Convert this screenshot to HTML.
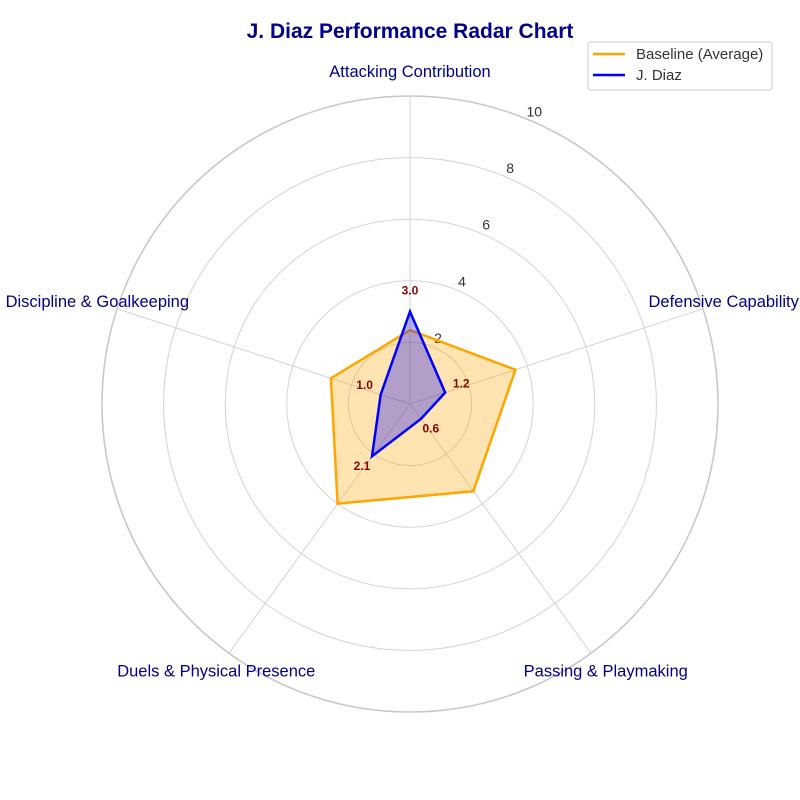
<!DOCTYPE html>
<html><head><meta charset="utf-8">
<style>
body{margin:0;background:#fff;}
svg{display:block;font-family:"Liberation Sans",Arial,sans-serif;}
</style></head>
<body>
<svg id="chart" width="800" height="800" viewBox="0 0 800 800">
<text x="410" y="38" text-anchor="middle" font-size="21" font-weight="bold" fill="#00008b">J. Diaz Performance Radar Chart</text>
<g id="grid"></g>
<g id="series"></g>
<g>
<rect x="588" y="42" width="184" height="48" rx="3" fill="#fff" stroke="#ccc"/>
<line x1="593" y1="54" x2="625" y2="54" stroke="orange" stroke-width="2.5"/>
<text x="636" y="59" font-size="15" fill="#333">Baseline (Average)</text>
<line x1="593" y1="75" x2="625" y2="75" stroke="blue" stroke-width="2.5"/>
<text x="636" y="80" font-size="15" fill="#333">J. Diaz</text>
</g>
</svg>
<script>
const categories = ["Attacking Contribution","Defensive Capability","Passing & Playmaking","Duels & Physical Presence","Discipline & Goalkeeping"];
const baselineValues = [2.4, 3.6, 3.5, 4.0, 2.7];
const diazValues = [3.0, 1.2, 0.6, 2.1, 1.0];
const radialTicks = [2, 4, 6, 8, 10];
const rMax = 10;

const NS = "http://www.w3.org/2000/svg";
const cx = 410, cy = 404, R = 308;
const grid = document.getElementById('grid');
const series = document.getElementById('series');
function rScale(v){ return v / rMax * R; }
function angle(i){ return i * 2 * Math.PI / categories.length; }
function pt(i, v){ const a = angle(i), r = rScale(v); return [cx + r*Math.sin(a), cy - r*Math.cos(a)]; }
function mk(tag, attrs, parent){ const e = document.createElementNS(NS, tag); for (const k in attrs) e.setAttribute(k, attrs[k]); parent.appendChild(e); return e; }

radialTicks.forEach(t => {
  const c = mk('circle', {cx:cx, cy:cy, r:rScale(t), fill:'none', stroke: t===rMax ? '#c8c8c8' : '#d3d3d3', 'stroke-width': t===rMax ? 1.6 : 1}, grid);
  
  
  const a = 23 * Math.PI / 180, r = rScale(t) + 10;
  const tx = mk('text', {x: cx + r*Math.sin(a), y: cy - r*Math.cos(a) + 5, 'text-anchor':'middle', 'font-size':14, fill:'#333'}, grid);
  tx.textContent = t;
  
  
});
categories.forEach((c, i) => {
  const [x, y] = pt(i, rMax);
  const l = mk('line', {x1:cx, y1:cy, x2:x, y2:y, stroke:'#d3d3d3', 'stroke-width':1}, grid);
  
  
  const a = angle(i), rr = R + 25;
  let lx = cx + rr*Math.sin(a), ly = cy - rr*Math.cos(a);
  if (i === 1) lx -= 3;
  if (i === 4) lx += 4;
  if (i === 2) ly -= 3;
  if (i === 3) { ly -= 3; lx += 2; }
  const tx = mk('text', {x:lx, y:ly + 6, 'text-anchor':'middle', 'font-size':16.5, fill:'#00008b'}, grid);
  tx.textContent = c;
  
  
});
function poly(vals, stroke, fill, op, name){
  const pts = vals.map((v,i) => pt(i,v).join(',')).join(' ');
  const p = mk('polygon', {points:pts, fill:fill, 'fill-opacity':op, stroke:stroke, 'stroke-width':2.5, 'stroke-linejoin':'miter'}, series);
  
  
}
poly(baselineValues, 'orange', 'orange', 0.3, 'baseline-area');
poly(diazValues, 'blue', 'blue', 0.3, 'diaz-area');
diazValues.forEach((v, i) => {
  const [x, y] = pt(i, v + 0.55);
  const t = mk('text', {x:x, y:y, 'text-anchor':'middle', 'font-size':12, 'font-weight':'bold', fill:'#8b0000'}, series);
  t.textContent = v.toFixed(1);
  
  
});
</script>
</body></html>
